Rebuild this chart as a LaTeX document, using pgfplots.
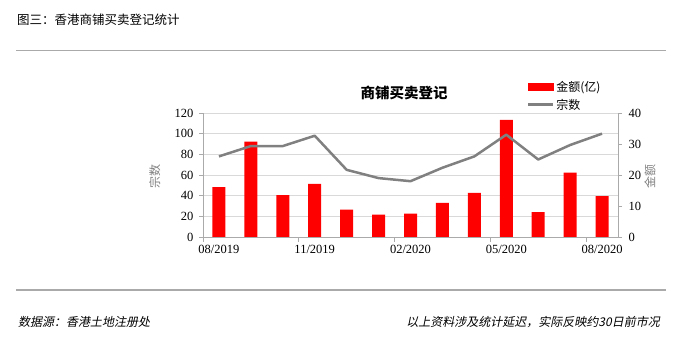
\documentclass[border=0pt]{standalone}
\usepackage{pgfplots}
\pgfplotsset{compat=1.18}
\usepackage{fontspec}
\setmainfont{Liberation Serif}
\newfontfamily\cjk{Noto Sans CJK SC}
\newfontfamily\cjkit{Noto Sans CJK SC}[FakeSlant=0.2]
\definecolor{linegray}{RGB}{128,128,128}
\definecolor{gridgray}{RGB}{217,217,217}
\definecolor{axgray}{RGB}{170,170,170}
\definecolor{barred}{RGB}{255,0,0}
\begin{document}
\begin{tikzpicture}
\path[use as bounding box] (0pt,0pt) rectangle (686pt,355pt);
\draw[axgray, line width=1.3pt] (16pt,304.5pt) -- (666pt,304.5pt);
\draw[axgray, line width=1.3pt] (16pt,65pt) -- (666pt,65pt);
\node[anchor=west, inner sep=0pt, font=\cjk\fontsize{12.5}{14}\selectfont] at (17pt,335pt) {图三：香港商铺买卖登记统计};
\node[anchor=west, inner sep=0pt, font=\cjkit\fontsize{12}{14}\selectfont] at (18pt,33pt) {数据源：香港土地注册处};
\node[anchor=east, inner sep=0pt, font=\cjkit\fontsize{12}{14}\selectfont] at (660pt,33pt) {以上资料涉及统计延迟，实际反映约30日前市况};
\node[inner sep=0pt, font=\cjk\bfseries\fontsize{14.5}{16}\selectfont] at (404pt,262pt) {商铺买卖登记};
% axis A: left scale, grid, x axis
\begin{axis}[at={(203pt,118pt)}, anchor=south west, scale only axis,
  width=415pt, height=124pt,
  xmin=-0.5, xmax=12.5, ymin=0, ymax=120,
  axis y line*=left, axis x line*=bottom,
  axis line style={axgray, line width=0.8pt, -},
  ytick={0,20,40,60,80,100,120},
  ymajorgrids, grid style={gridgray, line width=0.8pt},
  xtick={0,3,6,9,12},
  xticklabels={08/2019,11/2019,02/2020,05/2020,08/2020},
  minor xtick={-0.5,2.5,5.5,8.5,11.5},
  tick align=outside, major tick length=4pt, minor tick length=5pt,
  major x tick style={draw=none},
  minor x tick style={draw=axgray, line width=0.8pt},
  major y tick style={draw=axgray, line width=0.8pt},
  /pgf/number format/assume math mode=true,
  ticklabel style={font=\fontsize{12.5}{14}\selectfont},
  yticklabel style={xshift=-2pt},
  xticklabel style={yshift=-1pt},
  ylabel={\cjk 宗数},
  ylabel style={at={(axis description cs:-0.116,0.49)}, anchor=center, rotate=0, font=\fontsize{12}{14}\selectfont, text=linegray},
]
\addplot[draw=none, forget plot] coordinates {(0,0)};
\end{axis}
% axis B: right scale, bars
\begin{axis}[at={(203pt,118pt)}, anchor=south west, scale only axis,
  width=415pt, height=124pt,
  xmin=-0.5, xmax=12.5, ymin=0, ymax=40,
  axis y line*=right, axis x line=none,
  axis line style={axgray, line width=0.8pt, -},
  ytick={0,10,20,30,40},
  tick align=outside, major tick length=4pt,
  major y tick style={draw=axgray, line width=0.8pt},
  /pgf/number format/assume math mode=true,
  ticklabel style={font=\fontsize{12.5}{14}\selectfont},
  yticklabel style={xshift=3pt},
  ylabel={\cjk 金额},
  ylabel style={at={(axis description cs:1.077,0.49)}, anchor=center, rotate=0, font=\fontsize{12}{14}\selectfont, text=linegray},
]
\addplot[ybar, bar width=13pt, fill=barred, draw=none] coordinates {
(0,16.1) (1,30.8) (2,13.5) (3,17.1) (4,8.8) (5,7.2) (6,7.5)
(7,11.0) (8,14.2) (9,37.8) (10,8.0) (11,20.8) (12,13.2)};
\end{axis}
% axis C: line + legend
\begin{axis}[at={(203pt,118pt)}, anchor=south west, scale only axis,
  width=415pt, height=124pt,
  xmin=-0.5, xmax=12.5, ymin=0, ymax=120, hide axis,
  legend style={at={(axis description cs:0.78,1.275)}, anchor=north west,
    draw=none, fill=none, font=\cjk\fontsize{12}{14}\selectfont,
    row sep=2pt, inner sep=0pt},
  legend cell align=left,
]
\addlegendimage{legend image code/.code={\fill[barred] (0pt,-3.5pt) rectangle (25pt,3.5pt);}}
\addlegendentry{金额(亿)}
\addplot[linegray, line width=2.5pt, line join=round,
  legend image code/.code={\draw[linegray, line width=2.5pt] (0pt,0pt) -- (25pt,0pt);}]
  coordinates {
(0,78) (1,88) (2,88) (3,98) (4,65) (5,57) (6,54)
(7,67) (8,78) (9,99) (10,75) (11,89) (12,100)};
\addlegendentry{宗数}
\end{axis}
\end{tikzpicture}
\end{document}
